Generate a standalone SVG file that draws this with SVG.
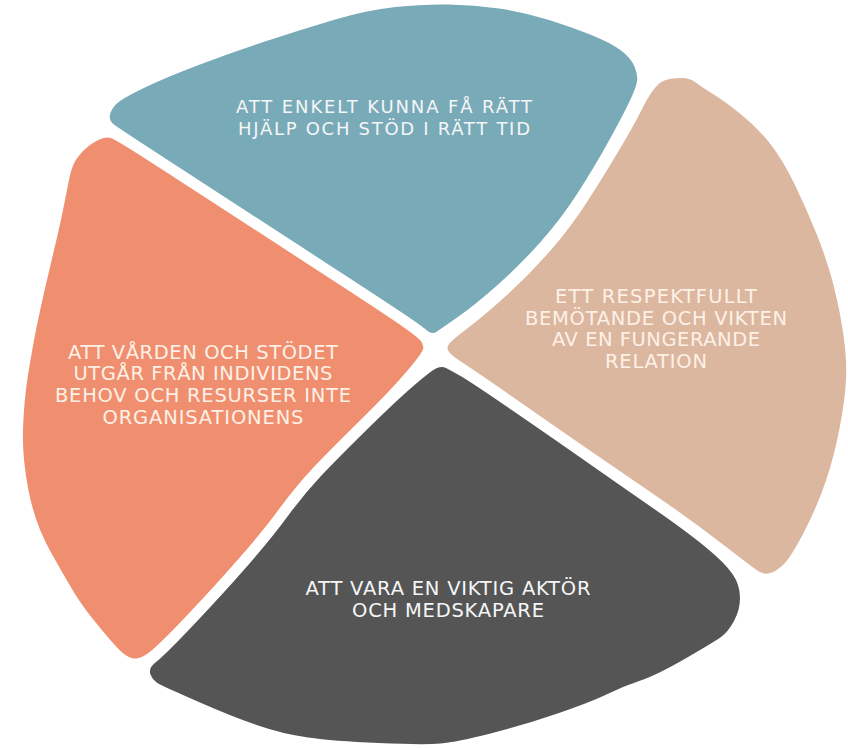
<svg xmlns="http://www.w3.org/2000/svg" width="848" height="748" viewBox="0 0 848 748">
<style>
.lbl{font-family:"DejaVu Sans","Liberation Sans",Arial,sans-serif;text-anchor:middle;}
.t17{font-size:18px;}
.t19{font-size:19.5px;}
.cream{fill:#fdf1e7;}
.white{fill:#f4f6f7;}
</style>
<rect width="848" height="748" fill="#ffffff"/>
<g id="node-teal">
<path fill="#79aab8" d="M110.5,113 Q113,106 120,101 Q127,96 147,86.5 Q167,77 200,64.5 Q233,52 266.5,41 Q300,30 333.5,20 Q367,10 395.5,7 Q424,4 449,4.5 Q474,5 499,8.5 Q524,12 549,20 Q574,28 592.5,35.5 Q611,43 621,50.5 Q631,58 634.5,66.5 Q638,75 637,81.5 Q636,88 629,102.5 Q622,117 608.5,141.5 Q595,166 578,192.5 Q561,219 540.5,242 Q520,265 497.5,285 Q475,305 458.5,316.5 Q442,328 437,331.5 Q432,335 427,330.5 Q422,326 401,312 Q380,298 340,272 Q300,246 250,213.5 Q200,181 160,155 Q120,129 114,124.5 Q108,120 110.5,113 Z"/>
<text class="lbl t17 white" x="384" y="113" textLength="296" lengthAdjust="spacing">ATT ENKELT KUNNA FÅ RÄTT</text>
<text class="lbl t17 white" x="384" y="135" textLength="292" lengthAdjust="spacing">HJÄLP OCH STÖD I RÄTT TID</text>
</g>
<g id="node-beige">
<path fill="#dcb7a0" d="M660.5,82.5 Q664,80 669.5,79 Q675,78 682.5,78 Q690,78 696.5,83 Q703,88 713,94 Q723,100 740,113.5 Q757,127 770,143.5 Q783,160 795,185 Q807,210 817,235 Q827,260 833.5,285 Q840,310 843.5,335 Q847,360 846,380 Q845,400 839.5,428.5 Q834,457 825.5,482 Q817,507 804,532 Q791,557 784,564 Q777,571 770.5,573 Q764,575 758,571 Q752,567 723,544.5 Q694,522 660.5,499 Q627,476 593.5,453 Q560,430 518.5,401 Q477,372 464.5,364 Q452,356 449,352 Q446,348 449,344 Q452,340 468.5,327.5 Q485,315 507.5,294.5 Q530,274 550.5,250.5 Q571,227 588,200.5 Q605,174 619.5,149.5 Q634,125 641,111 Q648,97 652.5,91 Q657,85 660.5,82.5 Z"/>
<text class="lbl t19 cream" x="656" y="303" textLength="202" lengthAdjust="spacing">ETT RESPEKTFULLT</text>
<text class="lbl t19 cream" x="656" y="324.5" textLength="262" lengthAdjust="spacing">BEMÖTANDE OCH VIKTEN</text>
<text class="lbl t19 cream" x="656" y="346" textLength="208" lengthAdjust="spacing">AV EN FUNGERANDE</text>
<text class="lbl t19 cream" x="656" y="367.5" textLength="102" lengthAdjust="spacing">RELATION</text>
</g>
<g id="node-dark">
<path fill="#555555" d="M446,368 Q450,370 460.5,376 Q471,382 512.5,410.5 Q554,439 587.5,462.5 Q621,486 653.5,508.5 Q686,531 705.5,547 Q725,563 732.5,574 Q740,585 740,597.5 Q740,610 734,621 Q728,632 721,637 Q714,642 685.5,658.5 Q657,675 640.5,680.5 Q624,686 607.5,694 Q591,702 557.5,713.5 Q524,725 490.5,733.5 Q457,742 440.5,743.5 Q424,745 378.5,743 Q333,741 308,737.5 Q283,734 258,725.5 Q233,717 200,702.5 Q167,688 160,684.5 Q153,681 150.5,674.5 Q148,668 156,662 Q164,656 192.5,626 Q221,596 246,567.5 Q271,539 287.5,516.5 Q304,494 320.5,476.5 Q337,459 367,429.5 Q397,400 414.5,385 Q432,370 437,368 Q442,366 446,368 Z"/>
<text class="lbl t19 white" x="448" y="595" textLength="285" lengthAdjust="spacing">ATT VARA EN VIKTIG AKTÖR</text>
<text class="lbl t19 white" x="448" y="617" textLength="192" lengthAdjust="spacing">OCH MEDSKAPARE</text>
</g>
<g id="node-salmon">
<path fill="#f08f6f" d="M111,138 Q115,139 157.5,166.5 Q200,194 250,226.5 Q300,259 340,285 Q380,311 397.5,323 Q415,335 420,340 Q425,345 422.5,350.5 Q420,356 404.5,374 Q389,392 359,421.5 Q329,451 312.5,468.5 Q296,486 279.5,508.5 Q263,531 238,559.5 Q213,588 184.5,618 Q156,648 147,654 Q138,660 131.5,658 Q125,656 117.5,648 Q110,640 96.5,623.5 Q83,607 75,594 Q67,581 51,552.5 Q35,524 28.5,490.5 Q22,457 23,428.5 Q24,400 28,375 Q32,350 36,330 Q40,310 45,288.5 Q50,267 55,246 Q60,225 63.5,207.5 Q67,190 69.5,177.5 Q72,165 77.5,157.5 Q83,150 90,145 Q97,140 102,138.5 Q107,137 111,138 Z"/>
<text class="lbl t19 cream" x="203" y="359" textLength="270" lengthAdjust="spacing">ATT VÅRDEN OCH STÖDET</text>
<text class="lbl t19 cream" x="203" y="380" textLength="259" lengthAdjust="spacing">UTGÅR FRÅN INDIVIDENS</text>
<text class="lbl t19 cream" x="203" y="402" textLength="296" lengthAdjust="spacing">BEHOV OCH RESURSER INTE</text>
<text class="lbl t19 cream" x="203" y="424" textLength="201" lengthAdjust="spacing">ORGANISATIONENS</text>
</g>
</svg>
